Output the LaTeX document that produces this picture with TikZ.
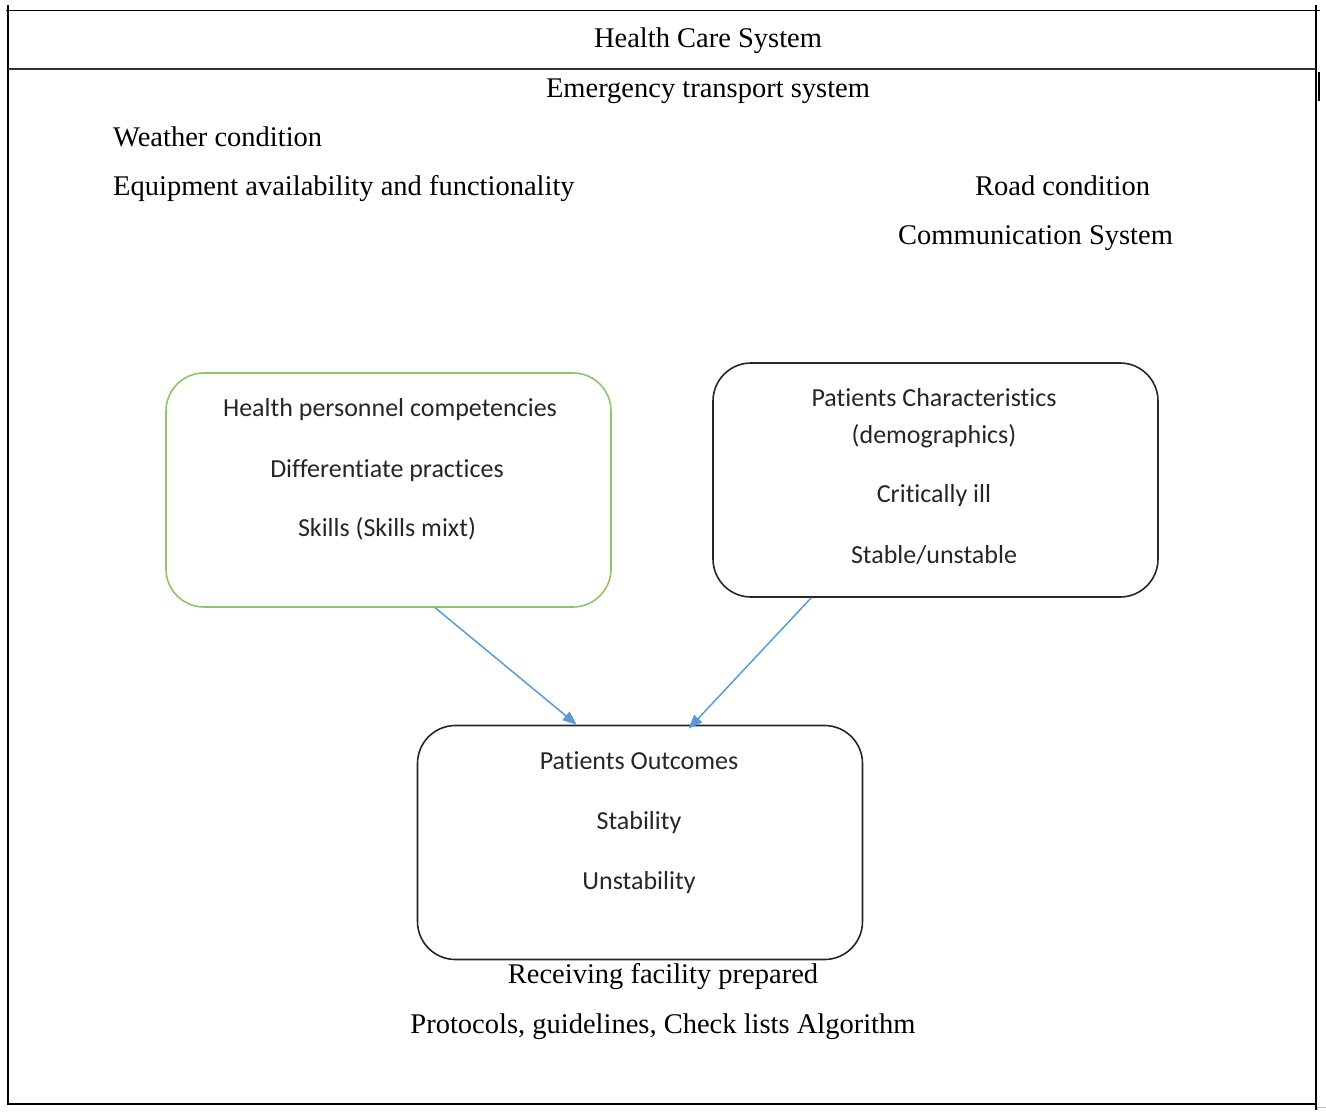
\documentclass[tikz,border=0pt]{standalone}
\usepackage{fontspec}
\setmainfont{Liberation Serif}
\newfontfamily\boxfont[Ligatures=NoCommon]{Carlito}
\usetikzlibrary{arrows.meta}
\definecolor{boxgreen}{HTML}{8CC56A}
\definecolor{arrblue}{HTML}{5B9BD5}
\definecolor{boxgray}{HTML}{262626}
\tikzset{
  serif/.style={anchor=base, inner sep=0pt, font=\fontsize{28.5}{34}\selectfont},
  serifL/.style={serif, anchor=base west},
  sans/.style={anchor=base, inner sep=0pt, text=boxgray, font=\boxfont\fontsize{26}{31}\selectfont},
  roundbox/.style={draw, rounded corners=38pt, line width=1.6pt, minimum width=445pt, minimum height=234pt, inner sep=0pt},
  gbox/.style={roundbox, draw=boxgreen},
  kbox/.style={roundbox, draw=boxgray},
  arr/.style={draw=arrblue, line width=1.5pt, -{Triangle[length=14pt,width=11pt]}},
  frame/.style={line width=1.6pt, black}
}
\begin{document}
\begin{tikzpicture}[x=1pt,y=-1pt]
\useasboundingbox (0,0) rectangle (1326,1112);
% frame
\draw[frame] (8,5) -- (8,1104) -- (1316,1104);
\draw[frame] (1316,5) -- (1316,1110);
\draw[line width=1pt] (6,10) -- (1320,10);
\draw[line width=2.2pt, black!80] (8,69) -- (1316,69);
\draw[line width=1.6pt] (1319,72) -- (1319,101);
\draw[line width=0.8pt, black!25] (1317,1110) -- (1317,1107) -- (1326,1107);
% header texts
\node[serif] (hcs) at (708,47) {Health Care System};
\node[serif] (ets) at (708,97) {Emergency transport system};
\node[serifL] (wc) at (113,146) {Weather condition};
\node[serifL] (eq) at (113,195) {Equipment availability and functionality};
\node[serifL] (rc) at (975,195) {Road condition};
\node[serifL] (cs) at (898,244) {Communication System};
% boxes
\node[gbox] (hpc) at (388.5,490) {};
\node[kbox] (pc) at (935.5,480) {};
\node[kbox] (po) at (640,842.5) {};
% box texts
\node[sans] (t1) at (390,416) {Health personnel competencies};
\node[sans] (t2) at (387,477) {Differentiate practices};
\node[sans] (t3) at (387,536) {Skills (Skills mixt)};
\node[sans] (t4) at (934,406) {Patients Characteristics};
\node[sans] (t5) at (934,443) {(demographics)};
\node[sans] (t6) at (934,502) {Critically ill};
\node[sans] (t7) at (934,563) {Stable/unstable};
\node[sans] (t8) at (639,769) {Patients Outcomes};
\node[sans] (t9) at (639,829) {Stability};
\node[sans] (t10) at (639,889) {Unstability};
% bottom texts
\node[serif] (rf) at (663,983) {Receiving facility prepared};
\node[serif] (pg) at (663,1033) {Protocols, guidelines, Check lists Algorithm};
% arrows
\draw[arr] ([xshift=270pt]hpc.south west) -- ([xshift=160pt]po.north west);
\draw[arr] ([xshift=99pt]pc.south west) -- ([xshift=272pt,yshift=-4pt]po.north west);
\end{tikzpicture}
\end{document}
